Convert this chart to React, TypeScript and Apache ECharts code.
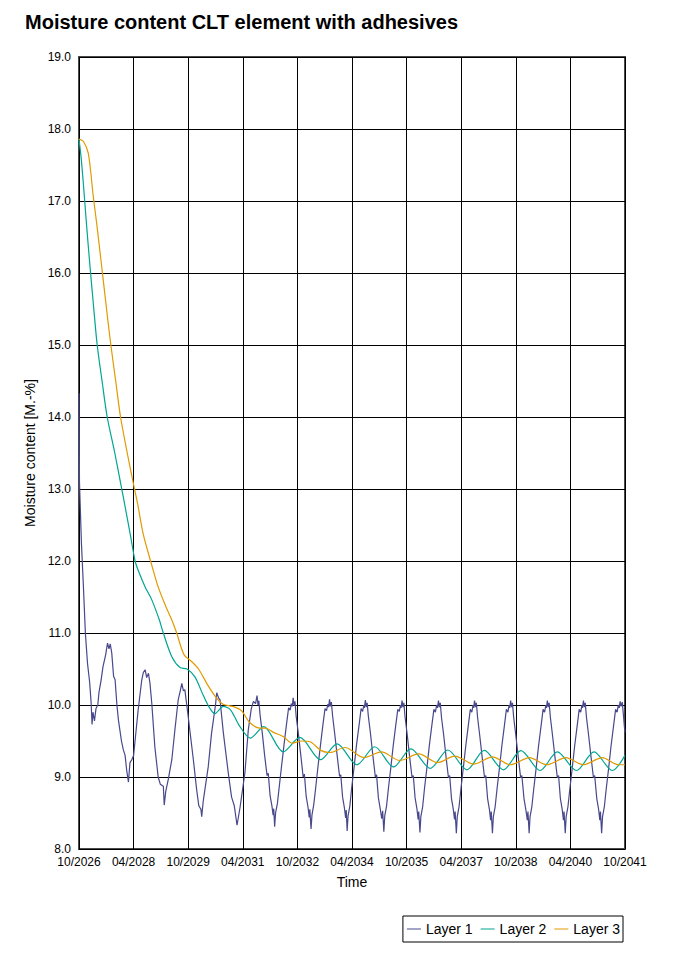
import React, { useEffect, useRef } from "react";
import * as echarts from "echarts";

const xTickLabels = ["10/2026", "04/2028", "10/2029", "04/2031", "10/2032", "04/2034", "10/2035", "04/2037", "10/2038", "04/2040", "10/2041"];
const seriesNames = ["Layer 1", "Layer 2", "Layer 3"];
const seriesColors = ["#48488c", "#00a593", "#e09b00"];

// x = months since 10/2026, y = moisture content [M.-%]
const layer1: number[][] = [
  [0, 14.33], [0.15, 13.1], [0.8, 12.25], [1.5, 11.6], [2.1, 11.0], [2.8, 10.58], [3.5, 10.32], [4.0, 10.03], [4.3, 9.73], [4.6, 9.9], [5.1, 9.78], [5.6, 9.95], [6.2, 10.0], [6.6, 10.18], [7.3, 10.35], [7.9, 10.53], [8.8, 10.7], [9.4, 10.86], [9.9, 10.78], [10.3, 10.85], [10.8, 10.72], [11.4, 10.4], [11.9, 10.35], [12.5, 10.0], [13.0, 9.79], [14.0, 9.5], [14.6, 9.38], [15.2, 9.3], [15.7, 9.1], [16.3, 8.93], [16.8, 9.2], [17.4, 9.24], [18.0, 9.3], [18.5, 9.51], [19.5, 9.93], [20.7, 10.35], [21.2, 10.45], [21.8, 10.49], [22.3, 10.38], [22.9, 10.44], [23.4, 10.3], [24.0, 10.02], [25.0, 9.42], [26.1, 9.0], [26.8, 8.9], [27.8, 8.87], [28.1, 8.61], [28.6, 8.8], [29.4, 8.96], [30.6, 9.24], [31.6, 9.65], [32.7, 10.07], [33.4, 10.2], [33.9, 10.3], [34.4, 10.2], [34.9, 10.21], [36.0, 9.84], [37.7, 9.24], [38.8, 8.82], [39.5, 8.6], [40.2, 8.55], [40.45, 8.45], [41.0, 8.68], [42.6, 9.14], [43.7, 9.61], [45.0, 10.0], [45.4, 10.17], [46.0, 10.1], [46.5, 10.07], [47.6, 9.61], [49.2, 9.06], [50.3, 8.72], [51.2, 8.6], [52.1, 8.33], [53.1, 8.58], [54.7, 9.06], [55.8, 9.65], [56.8, 9.95], [57.5, 10.05], [58.2, 10.02],
  [58.7, 10.13], [59.0, 10.0], [59.3, 10.06], [59.7, 9.86], [60.4, 9.62], [61.2, 9.3], [62.0, 9.02], [62.4, 9.05], [63.0, 8.74], [63.6, 8.6], [64.0, 8.47], [64.2, 8.56], [64.5, 8.31], [64.8, 8.5], [65.4, 8.63], [66.0, 8.86], [66.8, 9.16], [67.6, 9.45], [68.4, 9.73], [69.1, 9.96], [69.6, 9.93], [70.0, 10.02], [70.3, 9.98],
  [70.6, 10.1], [70.9, 9.99], [71.2, 10.05], [71.6, 9.84], [72.3, 9.61], [73.1, 9.31], [73.9, 9.0], [74.3, 9.04], [74.9, 8.73], [75.5, 8.58], [75.9, 8.44], [76.1, 8.55], [76.5, 8.28], [76.8, 8.47], [77.4, 8.62], [78.0, 8.84], [78.8, 9.15], [79.6, 9.44], [80.4, 9.72], [81.1, 9.95], [81.6, 9.92], [82.0, 10.01], [82.3, 9.97],
  [82.6, 10.08], [82.9, 9.98], [83.2, 10.04], [83.6, 9.85], [84.3, 9.6], [85.1, 9.3], [85.9, 9.01], [86.3, 9.03], [86.9, 8.72], [87.5, 8.57], [87.9, 8.43], [88.1, 8.54], [88.4, 8.25], [88.7, 8.46], [89.3, 8.6], [89.9, 8.85], [90.7, 9.14], [91.5, 9.45], [92.3, 9.71], [93.0, 9.95], [93.5, 9.91], [93.9, 10.0], [94.1, 9.96],
  [94.4, 10.07], [94.7, 9.97], [95.0, 10.03], [95.4, 9.84], [96.1, 9.6], [96.9, 9.29], [97.7, 9.0], [98.1, 9.03], [98.7, 8.71], [99.3, 8.56], [99.8, 8.42], [100.1, 8.53], [100.5, 8.24], [100.8, 8.46], [101.4, 8.6], [102.0, 8.84], [102.8, 9.13], [103.6, 9.44], [104.4, 9.71], [105.1, 9.94], [105.6, 9.91], [106.0, 10.0], [106.2, 9.96],
  [106.5, 10.06], [106.8, 9.97], [107.1, 10.03], [107.5, 9.83], [108.2, 9.59], [109.0, 9.28], [109.8, 8.99], [110.2, 9.02], [110.8, 8.71], [111.4, 8.56], [111.8, 8.41], [112.0, 8.52], [112.4, 8.23], [112.7, 8.45], [113.3, 8.59], [113.9, 8.84], [114.7, 9.13], [115.5, 9.44], [116.3, 9.71], [117.0, 9.94], [117.5, 9.9], [117.9, 10.0], [118.2, 9.96],
  [118.5, 10.06], [118.8, 9.97], [119.1, 10.03], [119.5, 9.83], [120.2, 9.59], [121.0, 9.28], [121.8, 8.99], [122.2, 9.02], [122.8, 8.7], [123.4, 8.55], [123.8, 8.41], [124.0, 8.52], [124.4, 8.22], [124.7, 8.45], [125.3, 8.59], [125.9, 8.83], [126.7, 9.13], [127.5, 9.43], [128.3, 9.7], [129.0, 9.94], [129.5, 9.9], [129.9, 10.0], [130.1, 9.96],
  [130.4, 10.06], [130.7, 9.97], [131.0, 10.03], [131.4, 9.83], [132.1, 9.58], [132.9, 9.28], [133.7, 8.99], [134.1, 9.02], [134.7, 8.7], [135.3, 8.55], [135.7, 8.4], [135.9, 8.52], [136.3, 8.22], [136.6, 8.45], [137.2, 8.59], [137.8, 8.83], [138.6, 9.12], [139.4, 9.43], [140.2, 9.7], [140.9, 9.94], [141.4, 9.9], [141.8, 10.0], [142.0, 9.96],
  [142.3, 10.06], [142.6, 9.97], [142.9, 10.03], [143.3, 9.83], [144.0, 9.58], [144.8, 9.28], [145.6, 8.99], [146.0, 9.02], [146.7, 8.7], [147.3, 8.55], [147.8, 8.4], [148.0, 8.52], [148.4, 8.22], [148.7, 8.45], [149.3, 8.59], [149.9, 8.83], [150.7, 9.12], [151.5, 9.43], [152.3, 9.7], [153.0, 9.94], [153.5, 9.9], [153.9, 10.0], [154.1, 9.96],
  [154.4, 10.06], [154.7, 9.97], [155.0, 10.03], [155.4, 9.83], [156.1, 9.58], [156.9, 9.28], [157.7, 8.99], [158.1, 9.02], [158.7, 8.7], [159.3, 8.55], [159.7, 8.4], [159.9, 8.52], [160.3, 8.22], [160.6, 8.45], [161.2, 8.59], [161.8, 8.83], [162.6, 9.12], [163.4, 9.43], [164.2, 9.7], [164.9, 9.94], [165.4, 9.9], [165.8, 10.0], [166.0, 9.96],
  [166.3, 10.06], [166.6, 9.97], [166.9, 10.03], [167.3, 9.83], [168.0, 9.58], [168.8, 9.28], [169.6, 8.99], [170.0, 9.02], [170.7, 8.7], [171.3, 8.55], [171.7, 8.4], [171.9, 8.52], [172.3, 8.22], [172.6, 8.45], [173.2, 8.59], [173.8, 8.83], [174.6, 9.12], [175.4, 9.43], [176.2, 9.7], [176.9, 9.94], [177.4, 9.9], [177.8, 10.0], [178.1, 9.96],
  [178.4, 10.05], [178.7, 9.98], [179.1, 10.04], [179.5, 9.85], [179.8, 9.7], [180, 9.62],
];

const layer2: number[][] = [
  [0, 17.86], [0.66, 17.62], [1.42, 17.25], [2.54, 16.64], [3.63, 16.09], [4.71, 15.58], [6.0, 15.0], [7.6, 14.5], [9.3, 14.0], [11.8, 13.5], [14.0, 13.02], [15.0, 12.8], [16.9, 12.37], [18.5, 12.0], [19.6, 11.86], [21.8, 11.64], [24.0, 11.46], [26.5, 11.18], [27.8, 11.0], [30.6, 10.67], [33.3, 10.52], [35.6, 10.5], [38.2, 10.39], [40.8, 10.15], [42.9, 9.97], [44.8, 9.88], [47.6, 9.98], [50.0, 9.93], [52.9, 9.71], [56.5, 9.54], [60.9, 9.7], [67.3, 9.35], [72.8, 9.55], [79.6, 9.24], [85.1, 9.46], [91.6, 9.17], [97.5, 9.42], [103.7, 9.14], [109.4, 9.39], [115.8, 9.12], [121.6, 9.375], [127.9, 9.1], [133.6, 9.37], [139.9, 9.1], [145.7, 9.365], [152.0, 9.09], [157.7, 9.35], [164.0, 9.09], [169.8, 9.35], [175.8, 9.09], [180, 9.3],
];

const layer3: number[][] = [
  [0, 17.86], [1.42, 17.83], [3.07, 17.66], [4.71, 17.06], [5.83, 16.69], [7.48, 16.09], [9.3, 15.42], [10.5, 15.0], [12.1, 14.5], [13.7, 14.0], [15.9, 13.5], [18.3, 13.0], [19.3, 12.8], [21.2, 12.37], [23.6, 12.0], [26.1, 11.64], [28.7, 11.36], [30.6, 11.18], [32.2, 11.0], [34.6, 10.7], [37.2, 10.6], [39.4, 10.5], [42.4, 10.28], [45.1, 10.11], [47.5, 10.01], [50.7, 9.98], [53.6, 9.92], [56.2, 9.76], [59.5, 9.68], [61.4, 9.68], [64.1, 9.62], [67.4, 9.56], [70.3, 9.47], [73.4, 9.5], [76.2, 9.49], [79.7, 9.37], [82.7, 9.34], [87.7, 9.41], [93.9, 9.27], [99.7, 9.35], [105.7, 9.23], [112.0, 9.32], [118.2, 9.2], [123.9, 9.29], [130.1, 9.18], [136.3, 9.28], [142.2, 9.17], [148.5, 9.27], [154.2, 9.17], [160.5, 9.27], [166.3, 9.17], [172.5, 9.27], [177.8, 9.17], [180, 9.17],
];

const FONT = "'Liberation Sans', Arial, sans-serif";

export default function App() {
  const ref = useRef<HTMLDivElement>(null);
  useEffect(() => {
    if (!ref.current) return;
    const chart = echarts.init(ref.current, null, { renderer: "svg" });
    const data = [layer1, layer2, layer3];
    chart.setOption({
      animation: false,
      backgroundColor: "#ffffff",
      textStyle: { fontFamily: FONT },
      title: {
        text: "Moisture content CLT element with adhesives",
        left: 25,
        top: 12,
        padding: 0,
        textStyle: { fontFamily: FONT, fontSize: 20, fontWeight: "bold", color: "#000" },
      },
      legend: {
        data: seriesNames,
        right: 51,
        top: 916,
        orient: "horizontal",
        icon: "rect",
        padding: [6, 3, 6, 4],
        itemWidth: 14,
        itemHeight: 1,
        itemGap: 8,
        borderColor: "#000",
        borderWidth: 1,
        textStyle: { fontFamily: FONT, fontSize: 14, color: "#000", lineHeight: 14 },
      },
      grid: {
        left: 79,
        right: 49,
        top: 57,
        bottom: 104,
        show: true,
        borderColor: "#4a4a4a",
        borderWidth: 2,
        containLabel: false,
      },
      xAxis: {
        type: "value",
        min: 0,
        max: 180,
        interval: 18,
        name: "Time",
        nameLocation: "middle",
        nameGap: 26,
        nameTextStyle: { fontFamily: FONT, fontSize: 14, color: "#000" },
        axisLine: { show: false },
        axisTick: { show: false },
        axisLabel: {
          fontFamily: FONT,
          fontSize: 12,
          color: "#000",
          margin: 7,
          formatter: (v: number) => xTickLabels[Math.round(v / 18)] ?? "",
        },
        splitLine: { show: true, lineStyle: { color: "#000", width: 1 } },
      },
      yAxis: {
        type: "value",
        min: 8,
        max: 19,
        interval: 1,
        name: "Moisture content [M.-%]",
        nameLocation: "middle",
        nameGap: 37,
        nameRotate: 90,
        nameTextStyle: { fontFamily: FONT, fontSize: 14, color: "#000" },
        axisLine: { show: false },
        axisTick: { show: false },
        axisLabel: {
          fontFamily: FONT,
          fontSize: 12,
          color: "#000",
          margin: 8,
          formatter: (v: number) => v.toFixed(1),
        },
        splitLine: { show: true, lineStyle: { color: "#000", width: 1 } },
      },
      series: seriesNames.map((name, i) => ({
        name,
        type: "line",
        data: data[i],
        symbol: "none",
        smooth: i === 0 ? false : 0.3,
        lineStyle: { color: seriesColors[i], width: 1.2 },
        itemStyle: { color: seriesColors[i] },
        z: 2 + i,
      })),
    });
    return () => chart.dispose();
  }, []);
  return <div ref={ref} style={{ position: "absolute", left: 0, top: 0, width: 674, height: 953 }} />;
}
